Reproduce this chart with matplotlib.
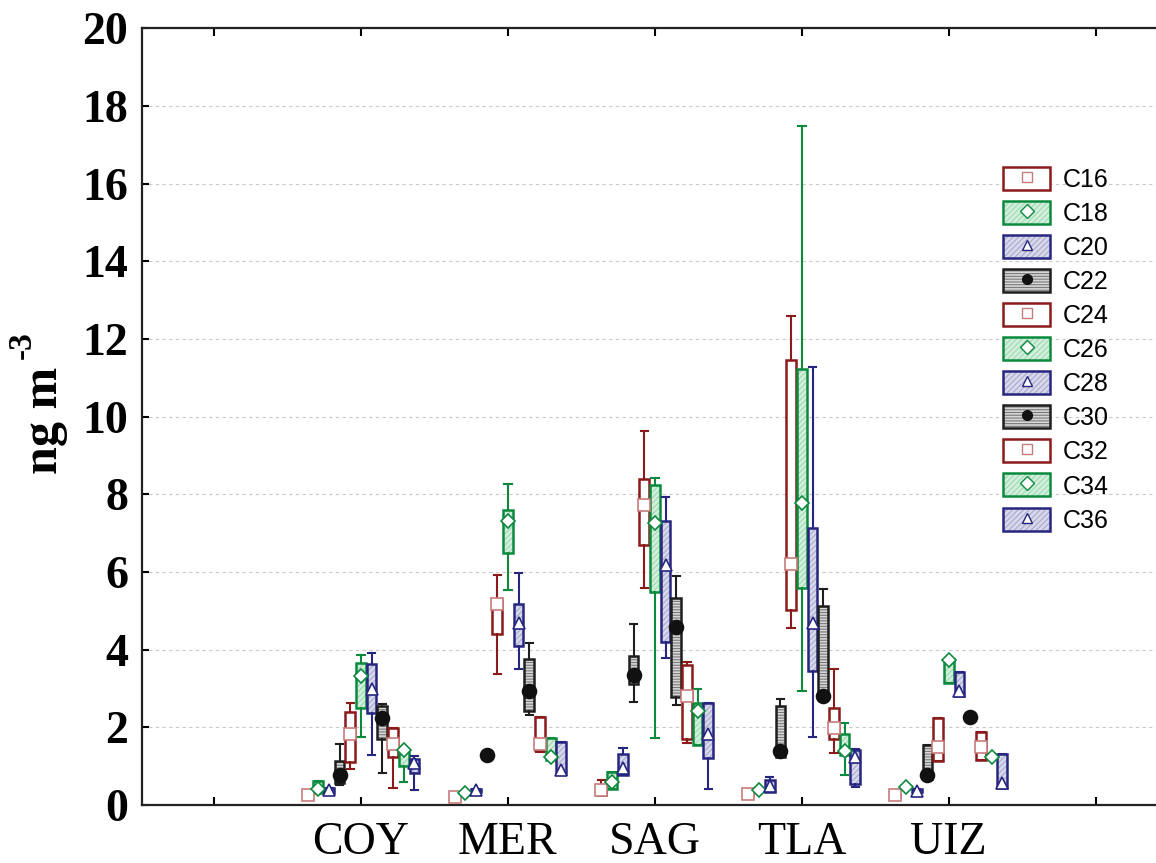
import numpy as np
import matplotlib.pyplot as plt
from matplotlib.patches import Patch
from matplotlib.lines import Line2D
from matplotlib.legend_handler import HandlerTuple

plt.rcParams['hatch.linewidth'] = 0.8

sites = ['COY', 'MER', 'SAG', 'TLA', 'UIZ']
series = ['C16', 'C18', 'C20', 'C22', 'C24', 'C26', 'C28', 'C30', 'C32', 'C34', 'C36']

# valores (ng m-3), una fila por sitio, columnas C16..C36
med = [[0.27, 0.41, 0.38, 0.77, 1.83, 3.32, 2.98, 2.24, 1.57, 1.42, 1.08],
       [0.20, 0.31, 0.38, 1.29, 5.17, 7.31, 4.68, 2.93, 1.57, 1.24, 0.90],
       [0.38, 0.59, 0.95, 3.35, 7.72, 7.26, 6.18, 4.58, 2.81, 2.42, 1.83],
       [0.28, 0.38, 0.48, 1.40, 6.22, 7.77, 4.68, 2.80, 1.98, 1.38, 1.24],
       [0.26, 0.46, 0.37, 0.77, 1.50, 3.73, 2.93, 2.27, 1.50, 1.24, 0.57]]
q1 = [[0.20, 0.30, 0.32, 0.57, 1.10, 2.50, 2.37, 1.69, 1.23, 1.00, 0.82],
      [0.17, 0.29, 0.33, 1.25, 4.40, 6.48, 4.09, 2.42, 1.41, 1.16, 0.80],
      [0.26, 0.41, 0.77, 3.11, 6.69, 5.48, 4.20, 2.78, 1.70, 1.54, 1.20],
      [0.25, 0.36, 0.34, 1.24, 5.02, 5.59, 3.45, 2.75, 1.70, 1.29, 0.55],
      [0.23, 0.44, 0.34, 0.66, 1.14, 3.13, 2.80, 2.25, 1.16, 1.22, 0.43]]
q3 = [[0.33, 0.62, 0.45, 1.13, 2.40, 3.66, 3.63, 2.54, 1.98, 1.44, 1.18],
      [0.23, 0.33, 0.42, 1.32, 5.28, 7.59, 5.17, 3.76, 2.26, 1.72, 1.62],
      [0.49, 0.85, 1.31, 3.84, 8.39, 8.24, 7.31, 5.33, 3.60, 2.63, 2.63],
      [0.31, 0.40, 0.65, 2.55, 11.45, 11.22, 7.13, 5.13, 2.50, 1.83, 1.41],
      [0.29, 0.48, 0.40, 1.54, 2.24, 3.75, 3.42, 2.29, 1.88, 1.26, 1.31]]
lo = [[0.20, 0.30, 0.32, 0.51, 0.93, 1.75, 1.29, 0.82, 0.44, 0.59, 0.39],
      [0.17, 0.29, 0.33, 1.25, 3.37, 5.53, 3.50, 2.32, 1.36, 1.16, 0.80],
      [0.26, 0.41, 0.77, 2.65, 5.59, 1.72, 3.78, 2.57, 1.60, 1.54, 0.41],
      [0.25, 0.36, 0.34, 1.24, 4.56, 2.93, 1.75, 2.75, 1.34, 0.77, 0.46],
      [0.23, 0.44, 0.34, 0.66, 1.14, 3.13, 2.80, 2.25, 1.16, 1.22, 0.43]]
hi = [[0.33, 0.62, 0.45, 1.57, 2.62, 3.86, 3.91, 2.60, 1.98, 1.44, 1.26],
      [0.23, 0.33, 0.42, 1.32, 5.92, 8.26, 5.97, 4.17, 2.26, 1.72, 1.62],
      [0.64, 0.85, 1.47, 4.66, 9.63, 8.42, 7.93, 5.89, 3.68, 2.98, 2.63],
      [0.31, 0.40, 0.73, 2.72, 12.60, 17.48, 11.27, 5.57, 3.50, 2.11, 1.45],
      [0.29, 0.48, 0.40, 1.54, 2.24, 3.75, 3.42, 2.29, 1.88, 1.26, 1.31]]

# estilos que se repiten cada 4 series
edge = ['#8b1a1a', '#0b8a3e', '#262680', '#1e1e1e']
face = ['white', '#d2efdc', '#d8d8ec', '#d6d6d6']
hatch_col = ['white', '#9fd8b5', '#a9a9cc', '#7a7a7a']
hatches = [None, '//////', '//////', '------']
markers = ['s', 'D', '^', 'o']
mface = ['white', 'white', 'white', '#111111']
medge = ['#c97c7c', '#0b8a3e', '#262680', '#111111']
msize = [8, 7, 9, 10]

step = 0.0727
w = 0.066

fig = plt.figure(figsize=(11.56, 8.63), dpi=100)
ax = fig.add_axes([142 / 1156, 58 / 863, 1014 / 1156, 776.5 / 863])

for j in range(len(series)):
    k = j % 4
    pos = np.arange(1, len(sites) + 1) + (j - 5) * step
    stats = [dict(med=med[i][j], q1=q1[i][j], q3=q3[i][j],
                  whislo=lo[i][j], whishi=hi[i][j], fliers=[])
             for i in range(len(sites))]
    if hatches[k]:
        # capa de relleno rayado
        ax.bxp(stats, positions=pos, widths=w, patch_artist=True,
               showcaps=False, manage_ticks=False,
               boxprops=dict(facecolor=face[k], edgecolor=hatch_col[k],
                             hatch=hatches[k], linewidth=0),
               whiskerprops=dict(linestyle='none'),
               medianprops=dict(linestyle='none'), zorder=2 + j * 0.01)
    ax.bxp(stats, positions=pos, widths=w, capwidths=0.05, patch_artist=True,
           manage_ticks=False,
           boxprops=dict(facecolor='none' if hatches[k] else face[k],
                         edgecolor=edge[k], linewidth=1.8),
           whiskerprops=dict(color=edge[k], linewidth=1.5),
           capprops=dict(color=edge[k], linewidth=1.5),
           medianprops=dict(linestyle='none'), zorder=2 + j * 0.01)
    ax.plot(pos, [m[j] for m in med], ls='none', marker=markers[k],
            ms=msize[k], mfc=mface[k], mec=medge[k], mew=1.2, zorder=5)

ax.set_xlim(-0.49, 6.41)
ax.set_ylim(0, 20)
ax.set_xticks(range(0, 7))
ax.set_xticklabels([''] + sites + [''], fontsize=33, family='Liberation Serif')
ax.set_yticks(range(0, 21, 2))
ax.set_yticklabels([str(v) for v in range(0, 21, 2)], fontsize=33,
                   family='Liberation Serif', fontweight='bold')
ax.tick_params(axis='x', direction='in', top=True, length=6, width=1.5, pad=12)
ax.tick_params(axis='y', direction='in', length=5, width=1.5, pad=10)
ax.spines['right'].set_visible(False)
for s in ['left', 'bottom', 'top']:
    ax.spines[s].set_linewidth(1.6)
    ax.spines[s].set_color('#222222')
ax.yaxis.grid(True, linestyle=(0, (3, 3)), color='#c8c8c8', linewidth=0.8)
ax.set_axisbelow(True)

# etiqueta del eje y con superindice
fig.text(45 / 1156, 1 - 420 / 863, 'ng m', rotation=90, ha='center',
         va='center', fontsize=36, family='Liberation Serif', fontweight='bold')
fig.text(22 / 1156, 1 - 345 / 863, '-3', rotation=90, ha='center',
         va='center', fontsize=24, family='Liberation Serif', fontweight='bold')

handles = []
for j in range(len(series)):
    k = j % 4
    mk = Line2D([], [], ls='none', marker=markers[k], ms=7, mfc=mface[k],
                mec=medge[k], mew=1.0)
    if hatches[k]:
        h = (Patch(facecolor=face[k], edgecolor=hatch_col[k], hatch=hatches[k], lw=0),
             Patch(facecolor='none', edgecolor=edge[k], lw=1.8), mk)
    else:
        h = (Patch(facecolor=face[k], edgecolor=edge[k], lw=1.8), mk)
    handles.append(h)

fig.legend(handles, series, loc='upper left', bbox_to_anchor=(1003 / 1156, 1 - 167 / 863),
           frameon=False, handler_map={tuple: HandlerTuple(ndivide=1)},
           prop={'family': 'Liberation Sans', 'size': 18},
           handlelength=1.88, handleheight=1.04, labelspacing=0.36,
           handletextpad=0.5, borderpad=0, borderaxespad=0)

fig.savefig('out.png', dpi=100)
